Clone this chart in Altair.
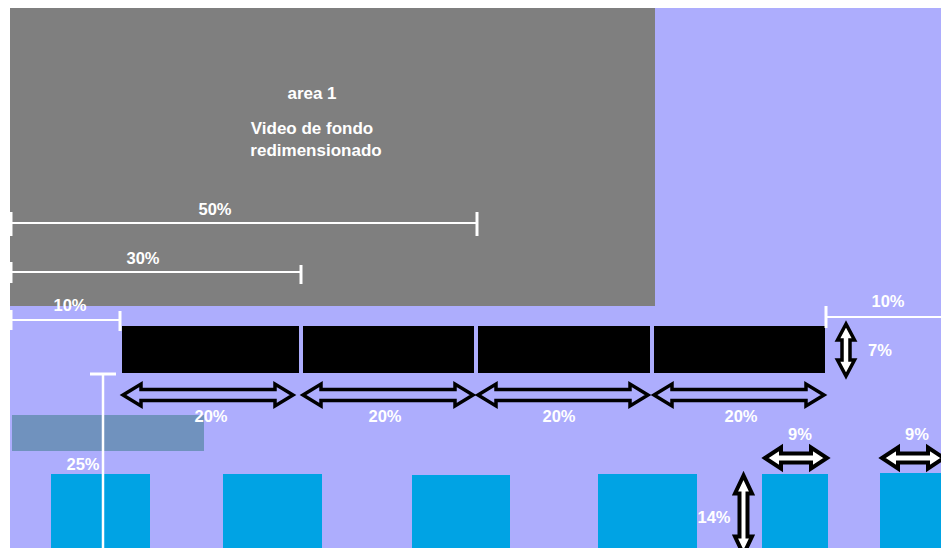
import altair as alt
import pandas as pd

# ---- diagram geometry (reference pixel coordinates) ----
X_DOMAIN = [8, 941]
Y_DOMAIN = [8, 548]

# filled rectangles
rect_x = [10, 10, 122, 303, 478, 654, 12, 51, 223, 412, 598, 762, 880]
rect_x2 = [949, 655, 299, 474, 650, 825, 204, 150, 322, 510, 697, 828, 945]
rect_y = [8, 8, 326, 326, 326, 326, 415, 474, 474, 475, 474, 474, 473]
rect_y2 = [558, 306, 373, 373, 373, 373, 451, 552, 552, 553, 552, 552, 551]
rect_kind = ["bg", "video", "bar", "bar", "bar", "bar", "overlay",
             "box", "box", "box", "box", "box", "box"]
kind_colors = {"bg": "#ADADFD", "video": "#7F7F7F", "bar": "#000000",
               "overlay": "#7092BE", "box": "#00A3E4"}

# white measurement lines (horizontal)
hline_x = [10, 10, 10, 826]
hline_x2 = [477, 301, 120, 949]
hline_y = [223, 272, 320, 317]
# vertical end ticks
vline_x = [11, 477, 11, 301, 11, 120, 826]
vline_y = [212, 212, 262, 265, 310, 311, 306]
vline_y2 = [236, 236, 283, 284, 330, 331, 328]
# 25% vertical measure line with its caps
m25_x = [103]
m25_y = [374]
m25_y2 = [557]
cap_x = [90, 90]
cap_x2 = [116, 116]
cap_y = [374, 557]

# labels
title_text = ["area 1", "Video de fondo", "redimensionado"]
title_x = [312, 312, 316]
title_y = [94, 129, 151]

label_text = ["50%", "30%", "10%", "10%", "7%", "20%", "20%", "20%", "20%",
              "25%", "9%", "9%", "14%"]
label_x = [215, 143, 70, 888, 880, 211, 385, 559, 741, 83, 800, 917, 714]
label_y = [210, 259, 306, 302, 351, 417, 417, 417, 417, 465, 435, 435, 518]

# double arrows
h20_x = [208, 388, 563, 739]
h20_y = [395, 395, 395, 395]
h9_x = [796, 913]
h9_y = [458, 458]
v14_x = [743.5]
v14_y = [515]
v7_x = [846]
v7_y = [350]


def arrow_path(L, hl, hh, sw, vertical=False):
    s = 2.0 / L
    a = L / 2.0
    pts = [(-a, 0), (-a + hl, -hh), (-a + hl, -sw), (a - hl, -sw), (a - hl, -hh),
           (a, 0), (a - hl, hh), (a - hl, sw), (-a + hl, sw), (-a + hl, hh)]
    if vertical:
        pts = [(y, x) for x, y in pts]
    return "M" + " L".join(f"{x * s:.4f},{y * s:.4f}" for x, y in pts) + " Z"


xs = alt.Scale(domain=X_DOMAIN, nice=False, zero=False)
ys = alt.Scale(domain=Y_DOMAIN, nice=False, zero=False, reverse=True)


def X(f):
    return alt.X(f, type="quantitative", scale=xs, axis=None)


def Y(f):
    return alt.Y(f, type="quantitative", scale=ys, axis=None)


rects = pd.DataFrame({"x": rect_x, "x2": rect_x2, "y": rect_y, "y2": rect_y2,
                      "kind": rect_kind})
layers = []
for kind in ["bg", "video", "bar"]:
    layers.append(alt.Chart(rects[rects.kind == kind]).mark_rect(
        color=kind_colors[kind], clip=True).encode(x=X("x"), x2="x2", y=Y("y"), y2="y2"))

font = "Liberation Sans, Arial, sans-serif"

titles = pd.DataFrame({"t": title_text, "x": title_x, "y": title_y})
layers.append(alt.Chart(titles).mark_text(
    color="white", font=font, fontWeight="bold", fontSize=17,
    align="center", baseline="middle").encode(x=X("x"), y=Y("y"), text="t"))

hl = pd.DataFrame({"x": hline_x, "x2": hline_x2, "y": hline_y})
layers.append(alt.Chart(hl).mark_rule(color="white", strokeWidth=2, clip=True).encode(
    x=X("x"), x2="x2", y=Y("y")))
vl = pd.DataFrame({"x": vline_x, "y": vline_y, "y2": vline_y2})
layers.append(alt.Chart(vl).mark_rule(color="white", strokeWidth=3, clip=True).encode(
    x=X("x"), y=Y("y"), y2="y2"))

for kind in ["overlay", "box"]:
    layers.append(alt.Chart(rects[rects.kind == kind]).mark_rect(
        color=kind_colors[kind], clip=True).encode(x=X("x"), x2="x2", y=Y("y"), y2="y2"))

m25 = pd.DataFrame({"x": m25_x, "y": m25_y, "y2": m25_y2})
layers.append(alt.Chart(m25).mark_rule(color="white", strokeWidth=2.5, clip=True).encode(
    x=X("x"), y=Y("y"), y2="y2"))
cp = pd.DataFrame({"x": cap_x, "x2": cap_x2, "y": cap_y})
layers.append(alt.Chart(cp).mark_rule(color="white", strokeWidth=3, clip=True).encode(
    x=X("x"), x2="x2", y=Y("y")))


# arrows
def arrow_layer(xv, yv, L, hlen, hh, sw, vertical, fill, sw_stroke):
    df = pd.DataFrame({"x": xv, "y": yv})
    kw = dict(shape=arrow_path(L, hlen, hh, sw, vertical), size=L * L,
              stroke="black", strokeWidth=sw_stroke, opacity=1,
              strokeJoin="miter", clip=True)
    if fill is None:
        m = alt.Chart(df).mark_point(filled=False, **kw)
    else:
        m = alt.Chart(df).mark_point(filled=True, fill=fill, **kw)
    return m.encode(x=X("x"), y=Y("y"))


layers.append(arrow_layer(h20_x, h20_y, 170, 18, 11, 5.5, False, None, 3.5))
layers.append(arrow_layer(h9_x, h9_y, 62, 16, 10.5, 4.5, False, "white", 4))
layers.append(arrow_layer(v14_x, v14_y, 79, 18, 8.5, 4, True, "white", 4))
layers.append(arrow_layer(v7_x, v7_y, 52, 16, 8.5, 4, True, "white", 3.5))

labels = pd.DataFrame({"t": label_text, "x": label_x, "y": label_y})
layers.append(alt.Chart(labels).mark_text(
    color="white", font=font, fontWeight="bold", fontSize=16.5,
    align="center", baseline="middle").encode(x=X("x"), y=Y("y"), text="t"))

chart = alt.layer(*layers).properties(
    width=933, height=540, padding=0, autosize=alt.AutoSizeParams(type="none"),
    background="white"
).configure_view(stroke=None)

chart.save("out.html", embed_options={"renderer": "svg", "actions": False})
